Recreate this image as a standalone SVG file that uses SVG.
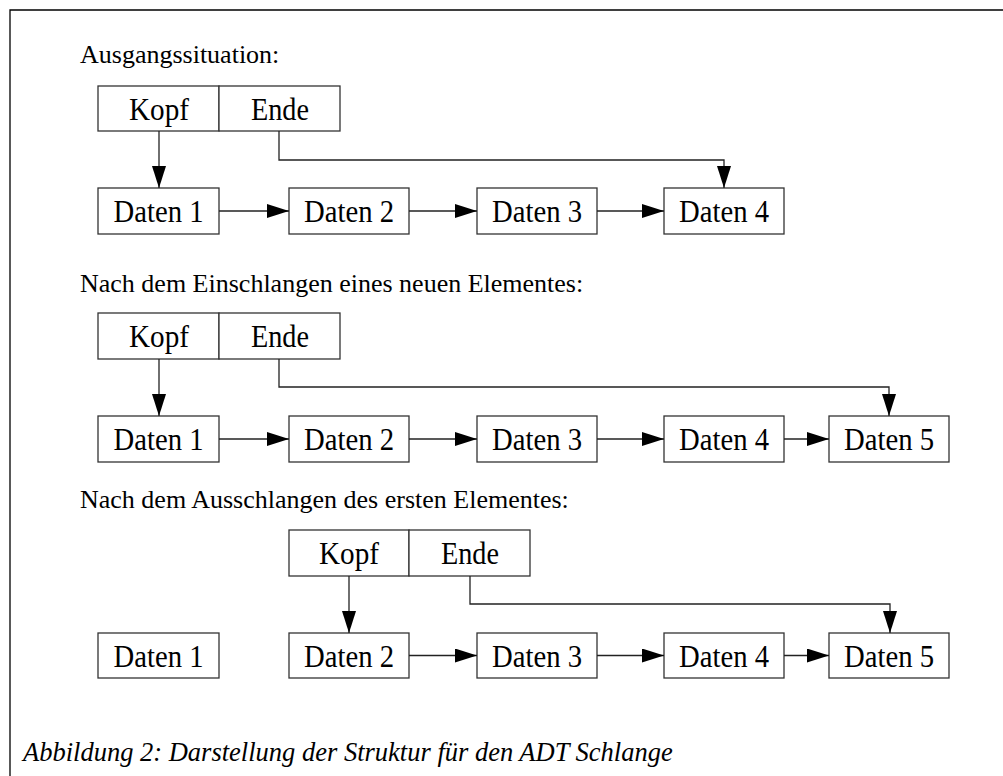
<svg xmlns="http://www.w3.org/2000/svg" width="1003" height="776" viewBox="0 0 1003 776">
<style>
.box{fill:#fff;stroke:#333;stroke-width:1.3}
.lbl{font-family:"Liberation Serif","Times New Roman",serif;font-size:31px;fill:#000;text-anchor:middle}
.head{font-family:"Liberation Serif","Times New Roman",serif;font-size:26px;fill:#000}
.cap{font-family:"Liberation Serif","Times New Roman",serif;font-size:26.5px;font-style:italic;fill:#000}
.con{fill:none;stroke:#222;stroke-width:1.3}
</style>
<defs>
<marker id="ah" markerWidth="22" markerHeight="14" refX="22" refY="7" orient="auto" markerUnits="userSpaceOnUse">
<path d="M0,0 L22,7 L0,14 Z" fill="#000"/>
</marker>
</defs>
<rect width="1003" height="776" fill="#fff"/>
<path d="M10,776 V10 H1003" fill="none" stroke="#000" stroke-width="1.3"/>

<text class="head" x="80" y="63">Ausgangssituation:</text>
<text class="head" x="80" y="292">Nach dem Einschlangen eines neuen Elementes:</text>
<text class="head" x="80" y="508">Nach dem Ausschlangen des ersten Elementes:</text>
<text class="cap" x="23" y="761">Abbildung 2: Darstellung der Struktur für den ADT Schlange</text>

<!-- Section 1 -->
<g id="s1-kopf"><rect class="box" x="98" y="86" width="121" height="45"/><text class="lbl" x="159" y="120" textLength="60" lengthAdjust="spacingAndGlyphs">Kopf</text></g>
<g id="s1-ende"><rect class="box" x="219" y="86" width="121" height="45"/><text class="lbl" x="280" y="120" textLength="58" lengthAdjust="spacingAndGlyphs">Ende</text></g>
<g id="s1-d1"><rect class="box" x="98" y="188" width="121" height="46"/><text class="lbl" x="158.5" y="222" textLength="90" lengthAdjust="spacingAndGlyphs">Daten 1</text></g>
<g id="s1-d2"><rect class="box" x="289" y="188" width="120" height="46"/><text class="lbl" x="349" y="222" textLength="90" lengthAdjust="spacingAndGlyphs">Daten 2</text></g>
<g id="s1-d3"><rect class="box" x="477" y="188" width="120" height="46"/><text class="lbl" x="537" y="222" textLength="90" lengthAdjust="spacingAndGlyphs">Daten 3</text></g>
<g id="s1-d4"><rect class="box" x="664" y="188" width="120" height="46"/><text class="lbl" x="724" y="222" textLength="90" lengthAdjust="spacingAndGlyphs">Daten 4</text></g>

<!-- Section 2 -->
<g id="s2-kopf"><rect class="box" x="98" y="313" width="121" height="46"/><text class="lbl" x="159" y="347" textLength="60" lengthAdjust="spacingAndGlyphs">Kopf</text></g>
<g id="s2-ende"><rect class="box" x="219" y="313" width="121" height="46"/><text class="lbl" x="280" y="347" textLength="58" lengthAdjust="spacingAndGlyphs">Ende</text></g>
<g id="s2-d1"><rect class="box" x="98" y="416" width="121" height="46"/><text class="lbl" x="158.5" y="450" textLength="90" lengthAdjust="spacingAndGlyphs">Daten 1</text></g>
<g id="s2-d2"><rect class="box" x="289" y="416" width="120" height="46"/><text class="lbl" x="349" y="450" textLength="90" lengthAdjust="spacingAndGlyphs">Daten 2</text></g>
<g id="s2-d3"><rect class="box" x="477" y="416" width="120" height="46"/><text class="lbl" x="537" y="450" textLength="90" lengthAdjust="spacingAndGlyphs">Daten 3</text></g>
<g id="s2-d4"><rect class="box" x="664" y="416" width="120" height="46"/><text class="lbl" x="724" y="450" textLength="90" lengthAdjust="spacingAndGlyphs">Daten 4</text></g>
<g id="s2-d5"><rect class="box" x="829" y="416" width="120" height="46"/><text class="lbl" x="889" y="450" textLength="90" lengthAdjust="spacingAndGlyphs">Daten 5</text></g>

<!-- Section 3 -->
<g id="s3-kopf"><rect class="box" x="289" y="530" width="120" height="46"/><text class="lbl" x="349" y="564" textLength="60" lengthAdjust="spacingAndGlyphs">Kopf</text></g>
<g id="s3-ende"><rect class="box" x="409" y="530" width="121" height="46"/><text class="lbl" x="470" y="564" textLength="58" lengthAdjust="spacingAndGlyphs">Ende</text></g>
<g id="s3-d1"><rect class="box" x="98" y="633" width="121" height="45"/><text class="lbl" x="158.5" y="667" textLength="90" lengthAdjust="spacingAndGlyphs">Daten 1</text></g>
<g id="s3-d2"><rect class="box" x="289" y="633" width="120" height="45"/><text class="lbl" x="349" y="667" textLength="90" lengthAdjust="spacingAndGlyphs">Daten 2</text></g>
<g id="s3-d3"><rect class="box" x="477" y="633" width="120" height="45"/><text class="lbl" x="537" y="667" textLength="90" lengthAdjust="spacingAndGlyphs">Daten 3</text></g>
<g id="s3-d4"><rect class="box" x="664" y="633" width="120" height="45"/><text class="lbl" x="724" y="667" textLength="90" lengthAdjust="spacingAndGlyphs">Daten 4</text></g>
<g id="s3-d5"><rect class="box" x="829" y="633" width="120" height="45"/><text class="lbl" x="889" y="667" textLength="90" lengthAdjust="spacingAndGlyphs">Daten 5</text></g>

<g id="connectors">
<path class="con" d="M159,131 V188" marker-end="url(#ah)"/>
<path class="con" d="M279,131 V160 H724 V188" marker-end="url(#ah)"/>
<path class="con" d="M219,211 H289" marker-end="url(#ah)"/>
<path class="con" d="M409,211 H477" marker-end="url(#ah)"/>
<path class="con" d="M597,211 H664" marker-end="url(#ah)"/>

<path class="con" d="M159,359 V416" marker-end="url(#ah)"/>
<path class="con" d="M279,359 V387 H889 V416" marker-end="url(#ah)"/>
<path class="con" d="M219,439 H289" marker-end="url(#ah)"/>
<path class="con" d="M409,439 H477" marker-end="url(#ah)"/>
<path class="con" d="M597,439 H664" marker-end="url(#ah)"/>
<path class="con" d="M784,439 H829" marker-end="url(#ah)"/>

<path class="con" d="M349,576 V633" marker-end="url(#ah)"/>
<path class="con" d="M470,576 V604 H890 V633" marker-end="url(#ah)"/>
<path class="con" d="M409,655.5 H477" marker-end="url(#ah)"/>
<path class="con" d="M597,655.5 H664" marker-end="url(#ah)"/>
<path class="con" d="M784,655.5 H829" marker-end="url(#ah)"/>
</g>
</svg>
